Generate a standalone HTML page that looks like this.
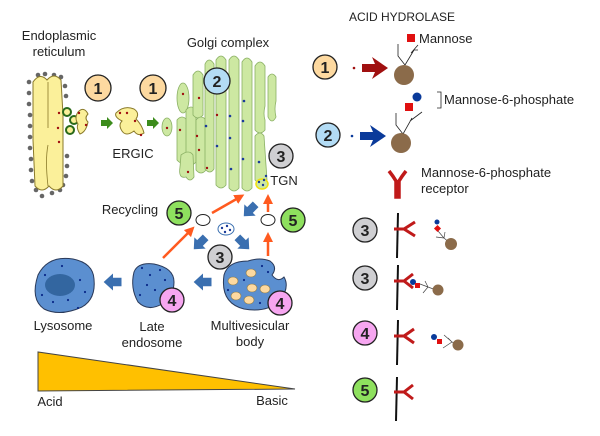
<!DOCTYPE html>
<html><head><meta charset="utf-8"><style>
html,body{margin:0;padding:0;background:#fff;}
svg{display:block;font-family:"Liberation Sans","DejaVu Sans",sans-serif;}
</style></head><body>
<svg width="600" height="436" viewBox="0 0 600 436" xmlns="http://www.w3.org/2000/svg">
<defs>
<marker id="oa" markerWidth="4" markerHeight="4" refX="2" refY="2" orient="auto" markerUnits="strokeWidth"><path d="M0,0 L4,2 L0,4 z" fill="#ff5a1f"/></marker>
<g id="barrow"><path d="M-10,-5 L0,-5 L0,-10 L11,0 L0,10 L0,5 L-10,5 z" fill="#3a6fb0"/></g>
<g id="garrow"><path d="M-6,-3 L0,-3 L0,-6 L6,0 L0,6 L0,3 L-6,3 z" fill="#3c8c1c"/></g>
</defs>
<g font-size="13" fill="#222">
<text x="59" y="40" text-anchor="middle">Endoplasmic</text>
<text x="59" y="56" text-anchor="middle">reticulum</text>
<text x="228" y="47" text-anchor="middle">Golgi complex</text>
<text x="133" y="158" text-anchor="middle">ERGIC</text>
<text x="284" y="185" text-anchor="middle">TGN</text>
<text x="130" y="214" text-anchor="middle">Recycling</text>
<text x="63" y="330" text-anchor="middle">Lysosome</text>
<text x="152" y="331" text-anchor="middle">Late</text>
<text x="152" y="347" text-anchor="middle">endosome</text>
<text x="250" y="330" text-anchor="middle">Multivesicular</text>
<text x="250" y="346" text-anchor="middle">body</text>
<text x="120" y="380" text-anchor="middle">pH</text>
<text x="50" y="406" text-anchor="middle">Acid</text>
<text x="272" y="405" text-anchor="middle">Basic</text>
</g>
<!-- ER -->
<g fill="#666">
<circle cx="29" cy="82" r="2.3"/><circle cx="29" cy="93" r="2.3"/><circle cx="29" cy="104" r="2.3"/><circle cx="30" cy="115" r="2.3"/><circle cx="30" cy="126" r="2.3"/><circle cx="30" cy="137" r="2.3"/><circle cx="30" cy="148" r="2.3"/><circle cx="31" cy="159" r="2.3"/><circle cx="31" cy="170" r="2.3"/><circle cx="32" cy="181" r="2.3"/><circle cx="36" cy="190" r="2.3"/><circle cx="42" cy="196" r="2.3"/><circle cx="52" cy="193" r="2.3"/><circle cx="60" cy="190" r="2.3"/><circle cx="38" cy="75" r="2.3"/><circle cx="45" cy="74" r="2.3"/><circle cx="54" cy="75" r="2.3"/><circle cx="61" cy="77" r="2.3"/><circle cx="65" cy="86" r="2.3"/><circle cx="66" cy="96" r="2.3"/><circle cx="67" cy="156" r="2.3"/><circle cx="67" cy="166" r="2.3"/><circle cx="66" cy="176" r="2.3"/><circle cx="63" cy="185" r="2.3"/>
</g>
<path d="M33,82 Q40,72 47,80 Q54,72 61,80 L63,115 L63,186 Q56,194 49,186 Q42,194 35,186 L33,140 Z" fill="#fbf09a" stroke="#8a7a2a" stroke-width="1"/>
<path d="M48,82 L48,128 M48,145 Q45,160 48,186" stroke="#8a7a2a" stroke-width="0.8" fill="none"/>
<circle cx="67" cy="112" r="4" fill="#fbf09a" stroke="#2a6a1a" stroke-width="2"/>
<circle cx="74" cy="120" r="4" fill="#fbf09a" stroke="#2a6a1a" stroke-width="2"/>
<circle cx="70" cy="130" r="4" fill="#fbf09a" stroke="#2a6a1a" stroke-width="2"/>
<path d="M78,112 q6,-6 10,2 q-4,4 0,8 q-2,10 -8,12 q-4,-6 -2,-10 q-4,-6 0,-12z" fill="#fbf09a" stroke="#8a7a2a"/>
<path d="M116,113 q8,-8 18,-4 q6,4 2,10 q6,6 8,14 q-6,4 -10,-2 q-8,6 -12,0 q-4,-6 0,-10 q-8,-4 -6,-8z" fill="#fbf09a" stroke="#8a7a2a"/>
<g fill="#a01010"><circle cx="59" cy="113" r="1.2"/><circle cx="58" cy="128" r="1.2"/><circle cx="59" cy="142" r="1.2"/><circle cx="86" cy="125" r="1.2"/><circle cx="79" cy="113" r="1.2"/><circle cx="127" cy="113" r="1.2"/><circle cx="135" cy="121" r="1.2"/><circle cx="141" cy="135" r="1.2"/><circle cx="120" cy="113" r="1.2"/></g>
<use href="#garrow" x="107" y="123"/><use href="#garrow" x="153" y="123"/>
<!-- Golgi -->
<g fill="#cde8a2" stroke="#8ab064" stroke-width="0.8">
<ellipse cx="167" cy="127" rx="5" ry="9"/>
<ellipse cx="183" cy="98" rx="6" ry="15"/>
<path d="M177,120 q5,-6 10,0 l0,40 q-5,6 -10,0 z"/>
<path d="M186,110 q5,-6 10,0 l0,52 q-5,6 -10,0 z"/>
<path d="M193,75 q5,-8 10,0 l0,40 q-5,6 -10,0 z"/>
<path d="M196,120 q5,-6 10,0 l0,50 q-5,6 -10,0 z"/>
<path d="M181,155 q8,-6 12,0 l1,22 q-4,6 -8,0 q-8,2 -6,-10 z"/>
<path d="M205,64 q4,-8 9,0 l0,105 q-4,6 -9,0 z"/>
<path d="M216,60 q5,-8 10,0 l0,125 q-5,6 -10,0 z"/>
<path d="M229,60 q5,-8 10,0 l0,128 q-5,6 -10,0 z"/>
<path d="M242,62 q5,-8 10,0 l0,126 q-5,6 -10,0 z"/>
<path d="M255,66 q5,-8 10,0 l0,40 q-2,8 0,14 l0,10 q-5,6 -10,0 z"/>
<path d="M268,77 q4,-6 8,0 l0,24 q-2,8 0,16 q-4,8 -8,0 z"/>
<path d="M255,136 q5,-6 9,0 l3,44 q-5,8 -12,0 z"/>
</g>
<g fill="#a01010"><circle cx="183" cy="94" r="1.2"/><circle cx="199" cy="98" r="1.2"/><circle cx="217" cy="115" r="1.2"/><circle cx="167" cy="128" r="1.2"/><circle cx="180" cy="130" r="1.2"/><circle cx="197" cy="136" r="1.2"/><circle cx="199" cy="150" r="1.2"/><circle cx="188" cy="172" r="1.2"/><circle cx="207" cy="168" r="1.2"/></g>
<g fill="#1a3a9a"><circle cx="206" cy="126" r="1.3"/><circle cx="230" cy="116" r="1.3"/><circle cx="244" cy="101" r="1.3"/><circle cx="243" cy="121" r="1.3"/><circle cx="217" cy="146" r="1.3"/><circle cx="230" cy="138" r="1.3"/><circle cx="243" cy="159" r="1.3"/><circle cx="231" cy="169" r="1.3"/><circle cx="259" cy="162" r="1.3"/></g>
<ellipse cx="262" cy="184" rx="6" ry="5" fill="#cde8a2" stroke="#f0e010" stroke-width="1.5"/>
<g fill="#1a3a9a"><circle cx="259" cy="182" r="1.2"/><circle cx="264" cy="180" r="1.2"/><circle cx="263" cy="185" r="1.2"/><circle cx="266" cy="176" r="1.2"/></g>
<!-- arrows recycling -->
<g stroke="#ff5a1f" stroke-width="2.5" fill="none">
<line x1="212" y1="213" x2="240" y2="197" marker-end="url(#oa)"/>
<line x1="163" y1="258" x2="191" y2="230" marker-end="url(#oa)"/>
<line x1="268" y1="212" x2="268" y2="199" marker-end="url(#oa)"/>
<line x1="268" y1="256" x2="268" y2="237" marker-end="url(#oa)"/>
</g>
<ellipse cx="203" cy="220" rx="7" ry="5.5" fill="#fff" stroke="#222"/>
<ellipse cx="268" cy="220" rx="7" ry="5.5" fill="#fff" stroke="#222"/>
<ellipse cx="226" cy="229" rx="8" ry="6" fill="#fff" stroke="#3a6fb0"/>
<g fill="#1a3a9a"><circle cx="222" cy="228" r="1.2"/><circle cx="227" cy="226" r="1.2"/><circle cx="230" cy="230" r="1.2"/><circle cx="225" cy="232" r="1.2"/></g>
<use href="#barrow" transform="translate(250,210) rotate(135) scale(0.8)"/>
<use href="#barrow" transform="translate(200,243) rotate(135) scale(0.8)"/>
<use href="#barrow" transform="translate(243,243) rotate(45) scale(0.8)"/>
<use href="#barrow" transform="translate(113,282) rotate(180) scale(0.85)"/>
<use href="#barrow" transform="translate(203,282) rotate(180) scale(0.85)"/>
<!-- lysosome etc -->
<path d="M38,275 q10,-20 35,-16 q20,4 21,20 q2,20 -12,28 q-22,10 -38,2 q-14,-10 -6,-34z" fill="#5b8fd0" stroke="#2a3a5a"/>
<ellipse cx="60" cy="285" rx="15" ry="11" fill="#3366a0"/>
<path d="M134,272 q4,-10 20,-8 q20,4 20,18 q0,14 -12,22 q-14,8 -24,-2 q-8,-14 -4,-30z" fill="#5b8fd0" stroke="#2a3a5a"/>
<path d="M224,275 q4,-14 24,-14 q12,-4 22,0 q8,6 2,14 q6,8 12,2 q6,10 -4,24 q-14,12 -36,8 q-24,-6 -20,-34z" fill="#5b8fd0" stroke="#2a3a5a"/>
<g fill="#fdd9a0" stroke="#8a7a4a" stroke-width="0.6"><ellipse cx="251" cy="273" rx="5" ry="4"/><ellipse cx="233" cy="281" rx="5" ry="4"/><ellipse cx="252" cy="288" rx="5" ry="4"/><ellipse cx="265" cy="289" rx="5" ry="4"/><ellipse cx="236" cy="296" rx="5" ry="4"/><ellipse cx="249" cy="300" rx="5" ry="4"/></g>
<g fill="#0a2a8a"><circle cx="45" cy="275" r="1.1"/><circle cx="62" cy="266" r="1.1"/><circle cx="80" cy="280" r="1.1"/><circle cx="85" cy="292" r="1.1"/><circle cx="53" cy="302" r="1.1"/><circle cx="68" cy="300" r="1.1"/><circle cx="78" cy="308" r="1.1"/><circle cx="42" cy="295" r="1.1"/><circle cx="142" cy="268" r="1.1"/><circle cx="150" cy="275" r="1.1"/><circle cx="160" cy="270" r="1.1"/><circle cx="147" cy="285" r="1.1"/><circle cx="155" cy="290" r="1.1"/><circle cx="140" cy="295" r="1.1"/><circle cx="165" cy="280" r="1.1"/><circle cx="262" cy="266" r="1.1"/><circle cx="268" cy="272" r="1.1"/><circle cx="244" cy="280" r="1.1"/><circle cx="260" cy="303" r="1.1"/><circle cx="228" cy="290" r="1.1"/></g>
<!-- pH triangle -->
<path d="M38,352 L38,391 L295,389 Z" fill="#ffc000" stroke="#444" stroke-width="1"/>
<!-- numbered circles -->
<g stroke="#222" stroke-width="1.3">
<circle cx="98" cy="88" r="13" fill="#fdd9a0"/><circle cx="153" cy="88" r="13" fill="#fdd9a0"/>
<circle cx="217" cy="81" r="13" fill="#b3dcf5"/>
<circle cx="281" cy="156" r="12" fill="#cfcfd2"/>
<circle cx="179" cy="213" r="12" fill="#8ee05e"/><circle cx="293" cy="220" r="12" fill="#8ee05e"/>
<circle cx="220" cy="257" r="12" fill="#cfcfd2"/>
<circle cx="172" cy="300" r="12" fill="#f6a6f0"/><circle cx="280" cy="303" r="12" fill="#f6a6f0"/>
<circle cx="325" cy="67" r="12" fill="#fdd9a0"/><circle cx="328" cy="135" r="12" fill="#b3dcf5"/>
<circle cx="365" cy="230" r="12" fill="#cfcfd2"/><circle cx="365" cy="278" r="12" fill="#cfcfd2"/>
<circle cx="365" cy="333" r="12" fill="#f6a6f0"/><circle cx="365" cy="390" r="12" fill="#8ee05e"/>
</g>
<g font-size="16" font-weight="bold" text-anchor="middle" fill="#222">
<text x="98" y="94">1</text><text x="153" y="94">1</text><text x="217" y="87">2</text><text x="281" y="162">3</text><text x="179" y="219">5</text><text x="293" y="226">5</text><text x="220" y="263">3</text><text x="172" y="306">4</text><text x="280" y="309">4</text>
<text x="325" y="73">1</text><text x="328" y="141">2</text><text x="365" y="236">3</text><text x="365" y="284">3</text><text x="365" y="339">4</text><text x="365" y="396">5</text>
</g>
<!-- right legend -->
<text x="349" y="21" font-size="12" fill="#222">ACID HYDROLASE</text>
<text x="419" y="43" font-size="13" fill="#222">Mannose</text>
<text x="444" y="104" font-size="13" fill="#222">Mannose-6-phosphate</text>
<text x="421" y="177" font-size="13" fill="#222">Mannose-6-phosphate</text>
<text x="421" y="193" font-size="13" fill="#222">receptor</text>
<circle cx="354" cy="68" r="1.3" fill="#a01010"/>
<path d="M362,64 L375,64 L372,57 L388,68 L372,79 L375,72 L362,72 Z" fill="#a01010"/>
<circle cx="352" cy="136" r="1.3" fill="#0a3a9a"/>
<path d="M360,132 L373,132 L370,125 L386,136 L370,147 L373,140 L360,140 Z" fill="#0a3a9a"/>
<g stroke="#222" stroke-width="0.8" fill="none">
<path d="M398,44 L398,56 L405,65 M405,65 L414,50 M411,53 L418,45 M414,50 L418,50"/>
<path d="M396,113 L396,125 L403,134 M403,134 L412,118 M410,121 L422,112"/>
<path d="M437,92 L441,92 L441,108 L437,108"/>
</g>
<circle cx="404" cy="75" r="10" fill="#8b6b4a"/>
<rect x="407" y="34" width="8" height="8" fill="#e01010"/>
<circle cx="401" cy="143" r="10" fill="#8b6b4a"/>
<circle cx="417" cy="97" r="4.5" fill="#0a3a9a"/>
<rect x="405" y="103" width="8" height="8" fill="#e01010"/>
<path d="M389,171 Q393,176 396,181 L396,197 L399,197 L399,181 Q402,176 406,171" stroke="#c01a1a" stroke-width="3.5" fill="none"/>
<g stroke="#111" stroke-width="2"><line x1="398" y1="213" x2="397" y2="258"/><line x1="398" y1="265" x2="397" y2="310"/><line x1="398" y1="320" x2="397" y2="365"/><line x1="397" y1="377" x2="396" y2="421"/></g>
<g stroke="#c01a1a" stroke-width="3" fill="none">
<path d="M394,229 L404,229 M404,229 L415,222 M404,229 L415,236"/>
<path d="M394,281 L404,281 M404,281 L413,274 M404,281 L413,288"/>
<path d="M394,336 L404,336 M404,336 L414,329 M404,336 L414,343"/>
<path d="M394,392 L404,392 M404,392 L413,385 M404,392 L413,399"/>
</g>
<g stroke="#444" stroke-width="0.7" fill="none">
<path d="M438,231 L444,238 L451,244 M444,238 L445,232 M444,238 L436,237"/>
<path d="M420,284 L428,287 L436,290 M428,287 L425,281 M428,287 L423,293"/>
<path d="M444,335 L452,342 L458,345 M452,342 L448,338 M452,342 L443,348"/>
</g>
<circle cx="437" cy="222" r="2.5" fill="#0a3a9a"/><rect x="435" y="226" width="5" height="5" fill="#e01010" transform="rotate(45 437.5 228.5)"/>
<circle cx="451" cy="244" r="6" fill="#8b6b4a"/>
<circle cx="413" cy="282" r="3" fill="#0a3a9a"/><rect x="415" y="283" width="5" height="5" fill="#e01010"/>
<circle cx="438" cy="290" r="5.5" fill="#8b6b4a"/>
<circle cx="434" cy="337" r="3" fill="#0a3a9a"/><rect x="437" y="339" width="5" height="5" fill="#e01010"/>
<circle cx="458" cy="345" r="5.5" fill="#8b6b4a"/>
</svg>
</body></html>
